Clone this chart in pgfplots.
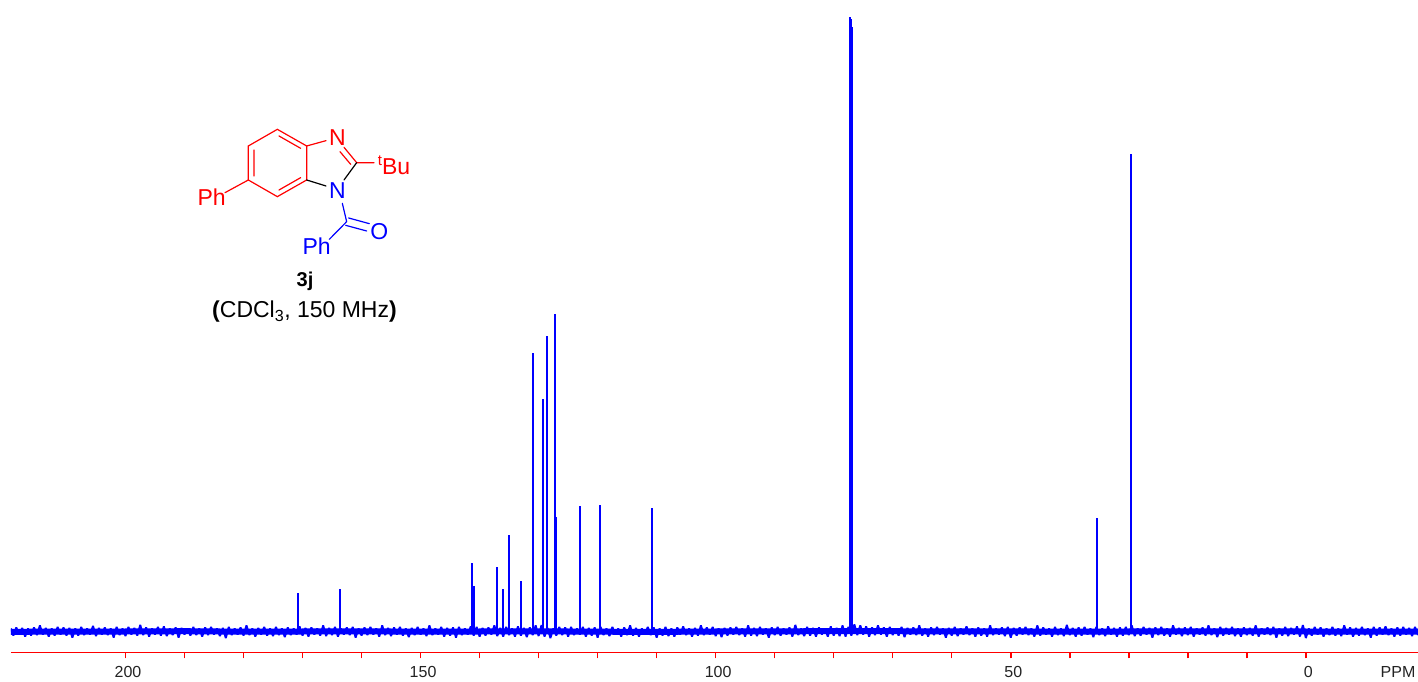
\documentclass[border=0pt]{standalone}
\usepackage{fontspec}
\setmainfont{Liberation Sans}
\usepackage{pgfplots}
\pgfplotsset{compat=1.18}
\definecolor{pureblue}{RGB}{0,0,255}
\definecolor{purered}{RGB}{255,0,0}
\definecolor{labelgray}{RGB}{35,35,35}
\begin{document}
\begin{tikzpicture}[x=1pt,y=1pt]
\begin{axis}[
  at={(11pt,29.7pt)},anchor=south west,
  scale only axis,width=1407pt,height=652.3pt,
  x dir=reverse,xmin=-19,xmax=219.4,ymin=-20.8,ymax=631.5,
  hide y axis,axis x line=bottom,
  axis line style={-},
  x axis line style={-,draw=purered,line width=1.4pt},
  xtick={200,150,100,50,0},minor x tick num=4,
  tick align=outside,major tick length=6pt,minor tick length=6pt,
  major tick style={draw=purered,line width=1.5pt},
  minor tick style={draw=purered,line width=1.5pt},
  xticklabel style={font=\fontsize{16}{18}\selectfont,text=labelgray,yshift=-4pt,xshift=2.5pt},
  /pgf/number format/assume math mode=true,
  clip=true]
\addplot[pureblue,line width=6pt] coordinates {
(219.4,-0.3)(200,0)(190,0.3)(180,-0.2)(170,0)(160,0.2)(150,-0.2)(140,0)(130,0.2)(120,-0.2)(110,-0.4)(100,0)(90,0.2)(80,0.3)(70,0.3)(60,0)(50,0.1)(40,-0.2)(30,0)(20,0)(10,0.2)(0,0)(-10,-0.2)(-19,0)
};
\addplot[pureblue,line width=1.9pt,line join=bevel] coordinates {
(219.4,3)(219,-4)(218.5,4)(218,-3)(217.5,3.5)(217,-5)(216.5,3)(216,-4)(215.5,4)(215,-3.5)(214.5,6)(214,-3)(213.5,3.5)(213,-5)(212.5,3)(212,-4)(211.5,4.5)(211,-3)(210.5,4)(210,-4)
(209.5,3.5)(209,-6)(208.5,3)(208,-4)(207.5,4.5)(207,-3.5)(206.5,3)(206,-3)(205.5,5.5)(205,-4.5)(204.5,3.5)(204,-3)(203.5,4)(203,-3.5)(202.5,3)(202,-6)(201.5,4.5)(201,-3.5)(200.5,3)(200,-4.5)
(199.5,4.5)(199,-3)(198.5,3.5)(198,-4)(197.5,6.5)(197,-3.5)(196.5,4)(196,-5)(195.5,3)(195,-3)(194.5,4.5)(194,-4)(193.5,5)(193,-4.5)(192.5,3)(192,-3.5)(191.5,4)(191,-6)(190.5,3.5)(190,-3)
(189.5,3)(189,-4)(188.5,4.5)(188,-3.5)(187.5,3)(187,-5)(186.5,4)(186,-3.5)(185.5,4.5)(185,-3)(184.5,3)(184,-4.5)(183.5,3.5)(183,-6.5)(182.5,4.5)(182,-3.5)(181.5,3)(181,-3)(180.5,4)(180,-4)
(179.5,6)(179,-3.5)(178.5,3)(178,-5)(177.5,3.5)(177,-3)(176.5,4.5)(176,-4)(175.5,3)(175,-4.5)(174.5,4.5)(174,-3.5)(173.5,3)(173,-5.5)(172.5,4)(172,-3.5)(171.5,3)(171,-3)(170.5,5)(170,-4)
(169.5,3.5)(169,-5)(168.5,4)(168,-3)(167.5,3)(167,-4)(166.5,6)(166,-4.5)(165.5,3.5)(165,-3.5)(164.5,4.5)(164,-5)(163.5,3)(163,-3)(162.5,4)(162,-3.5)(161.5,4.5)(161,-6)(160.5,3)(160,-4)
(159.5,4)(159,-3.5)(158.5,4.5)(158,-3)(157.5,3)(157,-5)(156.5,6)(156,-3.5)(155.5,3.5)(155,-4.5)(154.5,4)(154,-3)(153.5,4.5)(153,-4)(152.5,3)(152,-5.5)(151.5,3.5)(151,-3.5)(150.5,4.5)(150,-3)
(149.5,3)(149,-4.5)(148.5,6)(148,-3.5)(147.5,3)(147,-3)(146.5,4.5)(146,-5)(145.5,3.5)(145,-4)(144.5,4)(144,-6)(143.5,4.5)(143,-3.5)(142.5,3)(142,-3)(141.5,5)(141,-4)(140.5,4.5)(140,-5)
(139.5,3.5)(139,-4)(138.5,4)(138,-3)(137.5,6)(137,-4.5)(136.5,3.5)(136,-5)(135.5,4.5)(135,-3.5)(134.5,3)(134,-5)(133.5,5)(133,-4)(132.5,3.5)(132,-5.5)(131.5,4)(131,-3.5)(130.5,6)(130,-4.5)
(129.5,6.5)(129,-5)(128.5,3.5)(128,-6.5)(127.5,3)(127,-4)(126.5,4.5)(126,-3.5)(125.5,4)(125,-5)(124.5,4.5)(124,-3.5)(123.5,3)(123,-3)(122.5,4.5)(122,-5)(121.5,3.5)(121,-4)(120.5,4)(120,-6)
(119.5,4.5)(119,-3.5)(118.5,3)(118,-4.5)(117.5,4.5)(117,-3)(116.5,3)(116,-5)(115.5,4)(115,-3.5)(114.5,6)(114,-4)(113.5,3.5)(113,-5)(112.5,3)(112,-3)(111.5,4.5)(111,-3.5)(110.5,4)(110,-6)
(109.5,3)(109,-4)(108.5,4.5)(108,-4.5)(107.5,3)(107,-5)(106.5,4)(106,-3)(105.5,5)(105,-3.5)(104.5,3)(104,-5)(103.5,3.5)(103,-4)(102.5,6)(102,-3.5)(101.5,4)(101,-3)(100.5,4.5)(100,-4.5)
(99.5,3)(99,-5.5)(98.5,3.5)(98,-4)(97.5,4)(97,-3)(96.5,4.5)(96,-3.5)(95.5,3)(95,-5)(94.5,6)(94,-4)(93.5,3.5)(93,-4.5)(92.5,4.5)(92,-3)(91.5,3)(91,-6)(90.5,4)(90,-3.5)
(89.5,4.5)(89,-4)(88.5,3)(88,-3)(87.5,4)(87,-5)(86.5,6.5)(86,-3.5)(85.5,3)(85,-4.5)(84.5,4.5)(84,-4)(83.5,3.5)(83,-5)(82.5,4)(82,-3)(81.5,3)(81,-5)(80.5,5)(80,-4)
(79.5,3.5)(79,-4.5)(78.5,6)(78,-5)(77.5,4.5)(77,-4)(76.5,7)(76,-3.5)(75.5,6)(75,-3)(74.5,5)(74,-5)(73.5,4)(73,-3.5)(72.5,6)(72,-3)(71.5,4)(71,-5)(70.5,4.5)(70,-3.5)
(69.5,3)(69,-4)(68.5,4.5)(68,-5.5)(67.5,3.5)(67,-3)(66.5,4)(66,-3.5)(65.5,6)(65,-4)(64.5,3)(64,-5)(63.5,4)(63,-3.5)(62.5,4.5)(62,-3)(61.5,3)(61,-6)(60.5,3.5)(60,-4)
(59.5,4.5)(59,-4.5)(58.5,3)(58,-3)(57.5,5)(57,-3.5)(56.5,3)(56,-5)(55.5,4)(55,-4)(54.5,3)(54,-5)(53.5,6)(53,-3.5)(52.5,3)(52,-3)(51.5,4)(51,-4.5)(50.5,4.5)(50,-6)
(49.5,3.5)(49,-4)(48.5,4)(48,-3)(47.5,4.5)(47,-3.5)(46.5,3)(46,-5)(45.5,6)(45,-4)(44.5,4)(44,-3)(43.5,3)(43,-5)(42.5,4.5)(42,-3.5)(41.5,3)(41,-4.5)(40.5,6.5)(40,-3.5)
(39.5,3.5)(39,-5)(38.5,4)(38,-4)(37.5,4.5)(37,-3)(36.5,3)(36,-5.5)(35.5,4.5)(35,-3.5)(34.5,3)(34,-4.5)(33.5,5)(33,-3)(32.5,3.5)(32,-5)(31.5,4)(31,-4)(30.5,4.5)(30,-3.5)
(29.5,6)(29,-4.5)(28.5,3)(28,-4)(27.5,4.5)(27,-3)(26.5,3.5)(26,-6)(25.5,4)(25,-3.5)(24.5,4.5)(24,-4)(23.5,3)(23,-5)(22.5,6)(22,-3)(21.5,3.5)(21,-4.5)(20.5,4)(20,-3.5)
(19.5,4.5)(19,-5)(18.5,3)(18,-3)(17.5,4)(17,-4)(16.5,6)(16,-3.5)(15.5,3)(15,-5.5)(14.5,4.5)(14,-4)(13.5,3.5)(13,-3)(12.5,4.5)(12,-4.5)(11.5,3)(11,-5)(10.5,4)(10,-3.5)
(9.5,3.5)(9,-4)(8.5,6)(8,-5)(7.5,3)(7,-3)(6.5,4)(6,-3.5)(5.5,4.5)(5,-6)(4.5,3)(4,-4)(3.5,4.5)(3,-4.5)(2.5,3.5)(2,-3)(1.5,5)(1,-5)(0.5,6.5)(0,-6.5)
(-0.5,3)(-1,-4)(-1.5,4.5)(-2,-3)(-2.5,4)(-3,-5)(-3.5,3)(-4,-3.5)(-4.5,4.5)(-5,-4)(-5.5,3)(-6,-4.5)(-6.5,6)(-7,-3)(-7.5,4)(-8,-5)(-8.5,3.5)(-9,-4)(-9.5,4.5)(-10,-3.5)
(-10.5,3)(-11,-6)(-11.5,4.5)(-12,-4)(-12.5,4)(-13,-3)(-13.5,5)(-14,-3.5)(-14.5,3)(-15,-5)(-15.5,4)(-16,-4)(-16.5,4.5)(-17,-3)(-17.5,3.5)(-18,-4.5)(-18.5,4.5)(-19,-3.5)
};
\addplot[ycomb,pureblue,line width=2pt,mark=none] coordinates {
(170.69,38.5)(163.57,42.5)(141.37,68.5)(140.91,45.5)(136.97,64.5)(136.0,42.5)(135.1,96.5)(132.9,50.5)
(130.95,278.5)(129.34,232.5)(128.66,295.5)(127.3,317.5)(127.02,114.5)(122.95,125.5)(119.68,126)(110.75,123.5)
(77.3,614)(77.1,612.5)(76.9,604.5)(35.47,113.5)(29.7,477.5)
};
\end{axis}
\node[anchor=base,font=\fontsize{16}{18}\selectfont,text=labelgray] at (1398,4) {PPM};
\begin{scope}[shift={(180,572)},x=0.33333pt,y=-0.33333pt,line width=1.2pt,line cap=round]
\draw[purered] (380,108)--(292,58)--(205,108)--(205,210)--(292,260)--(380,210)--(380,108);
\draw[purered] (222,120)--(222,198) (297,78)--(362,115) (297,240)--(362,203);
\draw[purered] (380,108)--(438,92) (492,112)--(530,158) (480,125)--(512,163) (530,158)--(582,158) (205,210)--(135,248);
\draw[black] (530,158)--(492,210) (380,210)--(438,228);
\draw[pureblue] (487,280)--(500,335) (506,324)--(568,341) (497,346)--(560,363) (500,335)--(448,388);
\node[text=purered,font=\fontsize{23}{25}\selectfont] at (472,82) {N};
\node[text=pureblue,font=\fontsize{23}{25}\selectfont] at (472,243) {N};
\node[text=purered,font=\fontsize{23}{25}\selectfont,anchor=west,inner sep=0pt] at (592,166) {\raisebox{9pt}{\fontsize{15}{15}\selectfont t}Bu};
\node[text=purered,font=\fontsize{23}{25}\selectfont] at (95,262) {Ph};
\node[text=pureblue,font=\fontsize{23}{25}\selectfont] at (410,408) {Ph};
\node[text=pureblue,font=\fontsize{23}{25}\selectfont] at (598,365) {O};
\node[text=black,font=\fontsize{20}{22}\bfseries\selectfont] at (375,513) {3j};
\node[text=black,font=\fontsize{23}{25}\selectfont] at (373.5,606) {\textbf{(}CDCl\textsubscript{3}, 150 MHz\textbf{)}};
\end{scope}
\pgfresetboundingbox
\path (0,0) rectangle (1418,682);
\end{tikzpicture}
\end{document}
